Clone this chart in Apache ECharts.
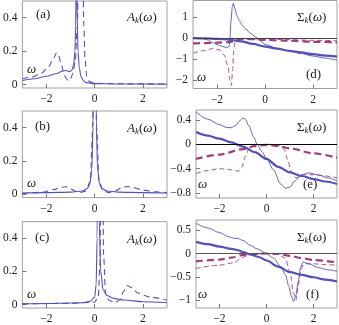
<!DOCTYPE html>
<html><head><meta charset="utf-8">
<script src="https://cdn.jsdelivr.net/npm/echarts@6/dist/echarts.min.js"></script>
<style>html,body{margin:0;padding:0;background:#fff}#c{width:339px;height:325px}</style>
</head><body><div id="c"></div>
<script>
// ---- tick labels ----
const xTicks = [-2, 0, 2];
const ticksA = [0, 0.2, 0.4];
const ticksD = [-2, -1, 0, 1];
const ticksE = [-0.8, -0.4, 0, 0.4];
const ticksF = [-1, -0.5, 0, 0.5];

// ---- panel (a): spectral function ----
const aSolid = [[-3,0.025],[-2.5,0.035],[-2,0.05],[-1.6,0.065],[-1.35,0.08],[-1.2,0.085],[-1.05,0.078],[-0.95,0.085],[-0.87,0.12],[-0.82,0.2],[-0.79,0.35],[-0.77,0.6],[-0.755,1.5],[-0.74,0.6],[-0.72,0.35],[-0.69,0.2],[-0.64,0.1],[-0.57,0.05],[-0.48,0.025],[-0.35,0.012],[0,0.006],[1,0.004],[3,0.003]];
const aDashed = [[-3,0.035],[-2.6,0.045],[-2.2,0.07],[-1.9,0.11],[-1.7,0.16],[-1.58,0.19],[-1.5,0.175],[-1.4,0.13],[-1.3,0.08],[-1.2,0.04],[-1.1,0.025],[-1.0,0.035],[-0.9,0.07],[-0.8,0.15],[-0.72,0.35],[-0.66,0.8],[-0.58,2],[-0.5,0.8],[-0.45,0.35],[-0.4,0.15],[-0.33,0.05],[-0.22,0.018],[0,0.008],[1,0.005],[3,0.004]];
// ---- panel (b) ----
const bSolid = [[-3,0.008],[-2,0.01],[-1,0.013],[-0.5,0.02],[-0.3,0.035],[-0.2,0.06],[-0.12,0.15],[-0.07,0.4],[-0.03,1.2],[0,3],[0.03,1.2],[0.07,0.4],[0.12,0.15],[0.2,0.06],[0.3,0.035],[0.5,0.02],[1,0.013],[2,0.01],[3,0.008]];
const bDashed = [[-3,0.005],[-2.2,0.012],[-1.7,0.028],[-1.4,0.042],[-1.2,0.045],[-1.0,0.033],[-0.8,0.018],[-0.6,0.01],[-0.35,0.02],[-0.18,0.08],[-0.08,0.4],[0,2],[0.08,0.4],[0.18,0.08],[0.35,0.02],[0.6,0.01],[0.85,0.02],[1.1,0.038],[1.35,0.047],[1.6,0.04],[2.0,0.025],[2.5,0.015],[3,0.01]];
// ---- panel (c) ----
const cSolid = [[-3,0.005],[-2,0.007],[-1,0.01],[-0.5,0.012],[-0.2,0.02],[0,0.045],[0.06,0.12],[0.1,0.4],[0.14,2],[0.19,0.5],[0.25,0.2],[0.35,0.09],[0.5,0.055],[0.8,0.038],[1.2,0.028],[2,0.018],[3,0.012]];
const cDashed = [[-3,0.005],[-1,0.008],[0,0.015],[0.15,0.05],[0.22,0.25],[0.3,2],[0.37,0.3],[0.45,0.07],[0.6,0.025],[0.85,0.012],[1.05,0.03],[1.2,0.08],[1.35,0.115],[1.5,0.105],[1.8,0.07],[2.3,0.045],[3,0.028]];
// ---- panel (d): self-energy ----
const dThick = [[-3,0.0],[-2.5,-0.01],[-2,-0.03],[-1.5,-0.07],[-1,-0.15],[-0.5,-0.27],[0,-0.4],[0.5,-0.5],[1,-0.6],[1.5,-0.68],[2,-0.76],[2.5,-0.83],[3,-0.88]];
const dThin = [[-3,0.0],[-2.6,-0.01],[-2.4,-0.08],[-2.2,-0.2],[-2.0,-0.3],[-1.8,-0.38],[-1.6,-0.45],[-1.5,-0.4],[-1.47,-0.2],[-1.42,0.8],[-1.36,1.5],[-1.32,1.67],[-1.25,1.4],[-1.18,1.1],[-1.05,0.8],[-0.95,0.62],[-0.8,0.43],[-0.6,0.23],[-0.4,0.07],[-0.25,-0.06],[0,-0.3],[0.5,-0.48],[1,-0.6],[1.5,-0.73],[2,-0.85],[2.5,-0.95],[3,-1.05]];
const dThickDash = [[-3,-0.25],[-2.5,-0.23],[-2,-0.21],[-1.5,-0.19],[-1.3,-0.15],[-1.1,-0.06],[-0.9,-0.03],[-0.5,-0.05],[0,-0.08],[1,-0.12],[2,-0.17],[3,-0.2]];
const dThinDash = [[-3,-0.72],[-2.6,-0.6],[-2.2,-0.5],[-1.9,-0.55],[-1.7,-0.8],[-1.55,-1.3],[-1.45,-2.0],[-1.4,-2.25],[-1.35,-1.5],[-1.3,-0.6],[-1.25,-0.2],[-1.1,-0.08],[-0.8,-0.03],[0,-0.04],[1,-0.07],[2,-0.1],[3,-0.12]];
// ---- panel (e) ----
const eThick = [[-3,0.2],[-2.5,0.14],[-2,0.09],[-1.5,0.03],[-1,-0.04],[-0.5,-0.13],[0,-0.24],[0.5,-0.37],[1,-0.46],[1.5,-0.52],[2,-0.57],[2.5,-0.61],[3,-0.65]];
const eThin = [[-3,0.53],[-2.5,0.41],[-2,0.32],[-1.7,0.275],[-1.5,0.27],[-1.3,0.31],[-1.15,0.38],[-1.0,0.43],[-0.9,0.41],[-0.75,0.3],[-0.55,0.12],[-0.4,0.0],[-0.2,-0.12],[0,-0.23],[0.3,-0.42],[0.6,-0.65],[0.8,-0.72],[1.0,-0.7],[1.2,-0.6],[1.5,-0.5],[1.8,-0.47],[2.2,-0.5],[2.6,-0.55],[3,-0.6]];
const eThickDash = [[-3,-0.24],[-2,-0.17],[-1,-0.08],[-0.5,-0.03],[0,-0.01],[0.5,-0.03],[1,-0.07],[2,-0.15],[3,-0.22]];
const eThinDash = [[-3,-0.48],[-2.5,-0.43],[-2,-0.4],[-1.5,-0.42],[-1.2,-0.44],[-1.05,-0.38],[-0.9,-0.2],[-0.75,-0.08],[-0.5,-0.02],[0,0],[0.5,-0.01],[0.75,-0.08],[0.9,-0.25],[1.05,-0.45],[1.25,-0.55],[1.6,-0.5],[2,-0.5],[2.5,-0.52],[3,-0.55]];
// ---- panel (f) ----
const fThick = [[-3,0.25],[-2.5,0.2],[-2,0.15],[-1.5,0.1],[-1.2,0.07],[-1,0.03],[-0.7,-0.02],[-0.3,-0.08],[0,-0.15],[0.5,-0.28],[1,-0.4],[1.5,-0.46],[2,-0.51],[2.5,-0.56],[3,-0.6]];
const fThin = [[-3,0.65],[-2.5,0.55],[-2,0.45],[-1.6,0.36],[-1.4,0.33],[-1.2,0.32],[-1.0,0.28],[-0.7,0.18],[-0.4,0.1],[0,0.0],[0.3,-0.1],[0.6,-0.28],[0.8,-0.45],[0.95,-0.7],[1.05,-0.9],[1.15,-1.03],[1.25,-0.9],[1.35,-0.6],[1.45,-0.3],[1.55,-0.18],[1.8,-0.22],[2.2,-0.3],[2.6,-0.35],[3,-0.38]];
const fThickDash = [[-3,-0.17],[-2,-0.13],[-1.4,-0.08],[-1,-0.03],[-0.5,-0.01],[0,0],[0.5,-0.01],[1,-0.05],[1.5,-0.1],[2,-0.14],[3,-0.19]];
const fThinDash = [[-3,-0.32],[-2,-0.25],[-1.4,-0.2],[-1,-0.08],[-0.7,-0.02],[0,0],[0.5,-0.02],[0.8,-0.1],[1.0,-0.4],[1.15,-0.85],[1.25,-1.0],[1.35,-0.7],[1.45,-0.35],[1.6,-0.22],[2,-0.22],[2.5,-0.24],[3,-0.25]];

const BLUE = '#5252b6', PURP = '#a0407a', FRAME = '#a0a0a0';
const FONT = 'Liberation Serif';

const grids = [
  {left:21, top:1, width:146, height:87},
  {left:193, top:0.5, width:144, height:88},
  {left:21, top:111, width:146, height:86.6},
  {left:196, top:110, width:141, height:88},
  {left:21, top:221.6, width:146, height:86.7},
  {left:196, top:220, width:141, height:88}
];
const yRanges = [[-0.02,0.5],[-2.4,1.8],[-0.02,0.5],[-0.88,0.56],[-0.02,0.5],[-1.17,0.72]];
const yTicks = [ticksA, ticksD, ticksA, ticksE, ticksA, ticksF];
const fmt = v => '{t|' + String(v).replace('-', '\u2212') + '}';
const labRich = {t:{fontFamily:FONT, fontSize:11.5, color:'#222'}};

const option = {
  animation:false,
  textStyle:{fontFamily:FONT},
  grid: grids.map(g => Object.assign({show:true, borderColor:FRAME, borderWidth:1, backgroundColor:'transparent'}, g)),
  xAxis: grids.map((g,i) => ({
    type:'value', gridIndex:i, min:-3, max:3, position:'bottom',
    axisLine:{show:false, onZero:false}, splitLine:{show:false},
    axisTick:{show:true, inside:true, length:4, lineStyle:{color:'#777'}, customValues:xTicks},
    axisLabel:{customValues:xTicks, formatter:fmt, rich:labRich, fontFamily:FONT, fontSize:11.5, color:'#222', margin:5}
  })),
  yAxis: grids.map((g,i) => ({
    type:'value', gridIndex:i, min:yRanges[i][0], max:yRanges[i][1], position:'left',
    axisLine:{show:false, onZero:false}, splitLine:{show:false},
    axisTick:{show:true, inside:true, length:4, lineStyle:{color:'#777'}, customValues:yTicks[i]},
    axisLabel:{customValues:yTicks[i], formatter:fmt, rich:labRich, fontFamily:FONT, fontSize:11.5, color:'#222', margin:5}
  })),
  series: []
};

function add(i, data, color, width, dash, z) {
  option.series.push({
    type:'line', xAxisIndex:i, yAxisIndex:i, data:data, showSymbol:false, clip:true,
    smooth:0.3, smoothMonotone:'x', z:z||2,
    lineStyle:{color:color, width:width, type: dash ? dash : 'solid'}
  });
}
// A panels
[[0,aSolid,aDashed],[2,bSolid,bDashed],[4,cSolid,cDashed]].forEach(([i,s,d]) => {
  add(i, s, BLUE, 1.1);
  add(i, d, BLUE, 1.1, [6,4]);
});
// Sigma panels
[[1,dThick,dThin,dThickDash,dThinDash,'#444'],[3,eThick,eThin,eThickDash,eThinDash,'#000'],[5,fThick,fThin,fThickDash,fThinDash,'#555']].forEach(([i,tk,tn,tkd,tnd,zc]) => {
  option.series.push({type:'line', xAxisIndex:i, yAxisIndex:i, data:[], markLine:{silent:true, symbol:'none', label:{show:false}, lineStyle:{color:zc, width:1.2, type:'solid'}, data:[{yAxis:0}]}});
  add(i, tnd, PURP, 0.9, [5,3]);
  add(i, tkd, PURP, 2.2, [7,4]);
  add(i, tn, BLUE, 0.9);
  add(i, tk, BLUE, 2.2);
});

const rich = {
  i:{fontFamily:FONT, fontStyle:'italic', fontSize:13, fill:'#222'},
  n:{fontFamily:FONT, fontSize:13, fill:'#222'},
  s:{fontFamily:FONT, fontStyle:'italic', fontSize:9, fill:'#222', padding:[6,0,0,0]}
};
function txt(x, y, t, italic) {
  return {type:'text', x:x, y:y, style:{text:t, fontFamily:FONT, fontSize:13, fontStyle: italic?'italic':'normal', fill:'#222', textVerticalAlign:'middle'}};
}
function rtxt(x, y, t) {
  return {type:'text', x:x, y:y, style:{text:t, rich:rich, textVerticalAlign:'middle'}};
}
option.graphic = [
  txt(36, 15, '(a)'), rtxt(127, 18, '{i|A}{s|k}{n|(}{i|ω}{n|)}'), txt(27, 70, 'ω', true),
  txt(35, 127, '(b)'), rtxt(127, 129, '{i|A}{s|k}{n|(}{i|ω}{n|)}'), txt(27, 184, 'ω', true),
  txt(35, 238, '(c)'), rtxt(127, 240, '{i|A}{s|k}{n|(}{i|ω}{n|)}'), txt(27, 295, 'ω', true),
  rtxt(297, 18, '{n|Σ}{s|k}{n|(}{i|ω}{n|)}'), txt(306, 75, '(d)'), txt(197, 78, 'ω', true),
  rtxt(297, 128, '{n|Σ}{s|k}{n|(}{i|ω}{n|)}'), txt(303, 185, '(e)'), txt(198, 185, 'ω', true),
  rtxt(297, 238, '{n|Σ}{s|k}{n|(}{i|ω}{n|)}'), txt(306, 295, '(f)'), txt(198, 295, 'ω', true)
];

const chart = echarts.init(document.getElementById('c'), null, {renderer:'canvas'});
chart.setOption(option);
</script>
</body></html>
